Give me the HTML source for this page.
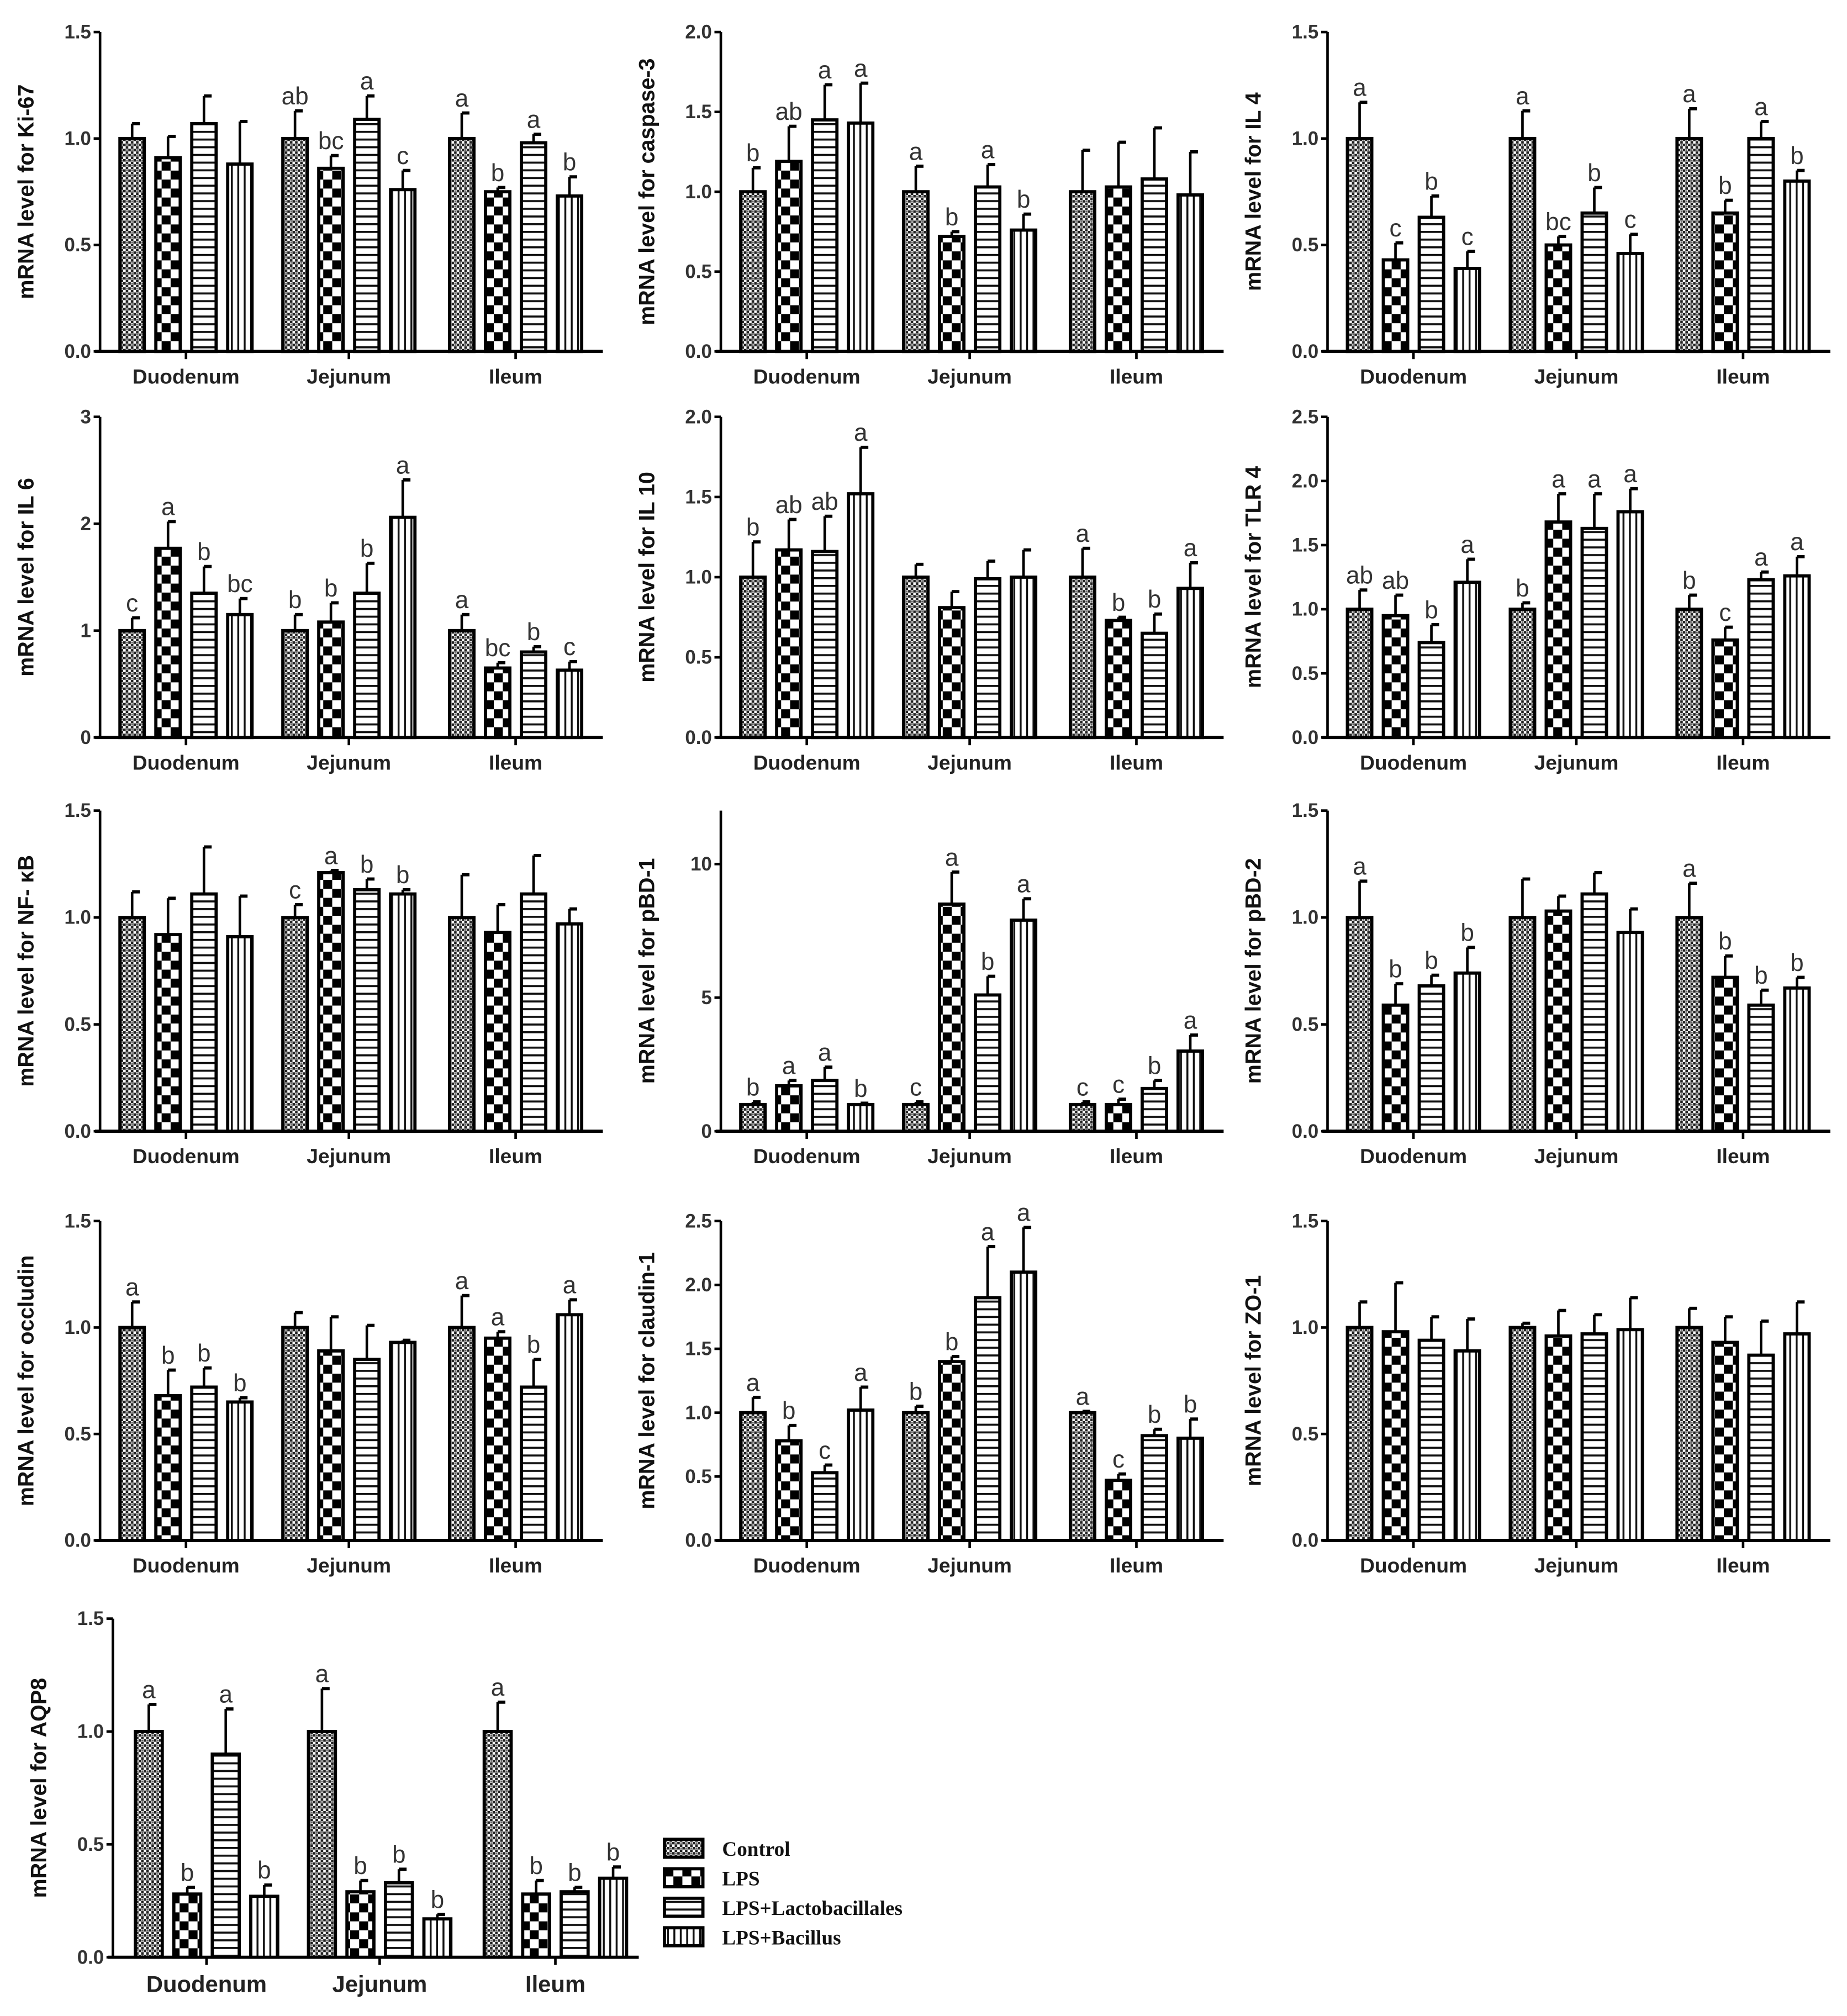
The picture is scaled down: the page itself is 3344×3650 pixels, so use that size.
<!DOCTYPE html>
<html><head><meta charset="utf-8"><style>
html,body{margin:0;padding:0;background:#fff}
svg{display:block}
</style></head><body>
<svg id="fig" xmlns="http://www.w3.org/2000/svg" width="3344" height="3650" viewBox="0 0 1440 1571.8">
<defs>
<pattern id="pCtrl" patternUnits="userSpaceOnUse" width="4" height="4"><rect width="4" height="4" fill="#fff"/><rect x="0" y="0" width="2" height="2" fill="#222"/><rect x="2" y="2" width="2" height="2" fill="#222"/><circle cx="3" cy="1" r="0.7" fill="#666"/></pattern>
<pattern id="pLps" patternUnits="userSpaceOnUse" width="14" height="14"><rect width="14" height="14" fill="#fff"/><rect x="0" y="0" width="7" height="7" fill="#000"/><rect x="7" y="7" width="7" height="7" fill="#000"/></pattern>
<pattern id="pLac" patternUnits="userSpaceOnUse" width="6" height="6"><rect width="6" height="6" fill="#fff"/><rect x="0" y="0" width="6" height="1.6" fill="#111"/></pattern>
<pattern id="pBac" patternUnits="userSpaceOnUse" width="5" height="5"><rect width="5" height="5" fill="#fff"/><rect x="0" y="0" width="1.5" height="5" fill="#111"/></pattern>
</defs>
<g id="panels"></g>
<g font-family="Liberation Serif, serif" font-weight="bold" font-size="16" fill="#111">
<rect x="518" y="1434" width="30" height="14" fill="url(#pCtrl)" stroke="#000" stroke-width="2.5"/>
<text x="563" y="1447">Control</text>
<rect x="518" y="1457" width="30" height="14" fill="url(#pLps)" stroke="#000" stroke-width="2.5"/>
<text x="563" y="1470">LPS</text>
<rect x="518" y="1480" width="30" height="14" fill="url(#pLac)" stroke="#000" stroke-width="2.5"/>
<text x="563" y="1493">LPS+Lactobacillales</text>
<rect x="518" y="1503" width="30" height="14" fill="url(#pBac)" stroke="#000" stroke-width="2.5"/>
<text x="563" y="1516">LPS+Bacillus</text>
</g>
</svg>
<script>
const regions = ["Duodenum","Jejunum","Ileum"];
const fills = ["url(#pCtrl)","url(#pLps)","url(#pLac)","url(#pBac)"];
const titles = ["Ki-67","caspase-3","IL 4","IL 6","IL 10","TLR 4","NF- κB","pBD-1","pBD-2","occludin","claudin-1","ZO-1","AQP8"];
const yMax = [1.5,2.0,1.5,3,2.0,2.5,1.5,12,1.5,1.5,2.5,1.5,1.5];
const yTicks = [
 ["0.0","0.5","1.0","1.5"],["0.0","0.5","1.0","1.5","2.0"],["0.0","0.5","1.0","1.5"],
 ["0","1","2","3"],["0.0","0.5","1.0","1.5","2.0"],["0.0","0.5","1.0","1.5","2.0","2.5"],
 ["0.0","0.5","1.0","1.5"],["0","5","10"],["0.0","0.5","1.0","1.5"],
 ["0.0","0.5","1.0","1.5"],["0.0","0.5","1.0","1.5","2.0","2.5"],["0.0","0.5","1.0","1.5"],
 ["0.0","0.5","1.0","1.5"]];
const means = [
 [[1.0,0.91,1.07,0.88],[1.0,0.86,1.09,0.76],[1.0,0.75,0.98,0.73]],
 [[1.0,1.19,1.45,1.43],[1.0,0.72,1.03,0.76],[1.0,1.03,1.08,0.98]],
 [[1.0,0.43,0.63,0.39],[1.0,0.50,0.65,0.46],[1.0,0.65,1.0,0.80]],
 [[1.0,1.77,1.35,1.15],[1.0,1.08,1.35,2.06],[1.0,0.65,0.80,0.63]],
 [[1.0,1.17,1.16,1.52],[1.0,0.81,0.99,1.0],[1.0,0.73,0.65,0.93]],
 [[1.0,0.95,0.74,1.21],[1.0,1.68,1.63,1.76],[1.0,0.76,1.23,1.26]],
 [[1.0,0.92,1.11,0.91],[1.0,1.21,1.13,1.11],[1.0,0.93,1.11,0.97]],
 [[1.0,1.7,1.9,1.0],[1.0,8.5,5.1,7.9],[1.0,1.0,1.6,3.0]],
 [[1.0,0.59,0.68,0.74],[1.0,1.03,1.11,0.93],[1.0,0.72,0.59,0.67]],
 [[1.0,0.68,0.72,0.65],[1.0,0.89,0.85,0.93],[1.0,0.95,0.72,1.06]],
 [[1.0,0.78,0.53,1.02],[1.0,1.40,1.90,2.10],[1.0,0.47,0.82,0.80]],
 [[1.0,0.98,0.94,0.89],[1.0,0.96,0.97,0.99],[1.0,0.93,0.87,0.97]],
 [[1.0,0.28,0.90,0.27],[1.0,0.29,0.33,0.17],[1.0,0.28,0.29,0.35]]];
const errs = [
 [[.07,.10,.13,.20],[.13,.06,.11,.09],[.12,.02,.04,.09]],
 [[.15,.22,.22,.25],[.16,.03,.14,.10],[.26,.28,.32,.27]],
 [[.17,.08,.10,.08],[.13,.04,.12,.09],[.14,.06,.08,.05]],
 [[.12,.25,.25,.15],[.15,.18,.28,.35],[.15,.05,.05,.08]],
 [[.22,.19,.22,.29],[.08,.10,.11,.17],[.18,.02,.12,.16]],
 [[.15,.16,.14,.18],[.05,.22,.27,.18],[.11,.10,.06,.15]],
 [[.12,.17,.22,.19],[.06,.01,.05,.02],[.20,.13,.18,.07]],
 [[.1,.2,.5,.05],[.1,1.2,.7,.8],[.1,.2,.3,.6]],
 [[.17,.10,.05,.12],[.18,.07,.10,.11],[.16,.10,.07,.05]],
 [[.12,.12,.09,.02],[.07,.16,.16,.01],[.15,.03,.13,.07]],
 [[.12,.12,.06,.18],[.05,.04,.40,.35],[.01,.05,.05,.15]],
 [[.12,.23,.11,.15],[.02,.12,.09,.15],[.09,.12,.16,.15]],
 [[.12,.03,.20,.05],[.19,.05,.06,.02],[.13,.06,.02,.05]]];
const letters = [
 [["","","",""],["ab","bc","a","c"],["a","b","a","b"]],
 [["b","ab","a","a"],["a","b","a","b"],["","","",""]],
 [["a","c","b","c"],["a","bc","b","c"],["a","b","a","b"]],
 [["c","a","b","bc"],["b","b","b","a"],["a","bc","b","c"]],
 [["b","ab","ab","a"],["","","",""],["a","b","b","a"]],
 [["ab","ab","b","a"],["b","a","a","a"],["b","c","a","a"]],
 [["","","",""],["c","a","b","b"],["","","",""]],
 [["b","a","a","b"],["c","a","b","a"],["c","c","b","a"]],
 [["a","b","b","b"],["","","",""],["a","b","b","b"]],
 [["a","b","b","b"],["","","",""],["a","a","b","a"]],
 [["a","b","c","a"],["b","b","a","a"],["a","c","b","b"]],
 [["","","",""],["","","",""],["","","",""]],
 [["a","b","a","b"],["a","b","b","b"],["a","b","b","b"]]];

const NS="http://www.w3.org/2000/svg";
const root=document.getElementById('panels');
function mk(tag,attrs,parent){const e=document.createElementNS(NS,tag);for(const k in attrs)e.setAttribute(k,attrs[k]);parent.appendChild(e);return e;}
// layout: axis x, zero y, top y
const colX=[78,562,1035];
const rows=[[274,25],[575,325],[882,632],[1201,952]];
function layout(i){
  if(i===12) return {x0:88,y0:1526,y1:1262,offs:[73,208,345],bw:21,pitch:30,w:410};
  const r=Math.floor(i/3),c=i%3;
  return {x0:colX[c],y0:rows[r][0],y1:rows[r][1],offs:[67,194,324],bw:19,pitch:28,w:392};
}
titles.forEach((t,i)=>{
  const L=layout(i);
  const g=mk('g',{},root);
  
  
  const yS=v=>L.y0-(v/yMax[i])*(L.y0-L.y1);
  // y axis
  const ax=mk('line',{x1:L.x0,y1:L.y1,x2:L.x0,y2:L.y0,stroke:'#000','stroke-width':2},g);
  
  
  const xa=mk('line',{x1:L.x0-4,y1:L.y0,x2:L.x0+L.w,y2:L.y0,stroke:'#000','stroke-width':2.5},g);
  
  
  yTicks[i].forEach(tl=>{
    const v=parseFloat(tl), y=yS(v);
    mk('line',{x1:L.x0-5,y1:y,x2:L.x0,y2:y,stroke:'#000','stroke-width':2},g);
    const tx=mk('text',{x:L.x0-7,y:y+5,'text-anchor':'end','font-family':'Liberation Sans, sans-serif','font-weight':'bold','font-size':15,fill:'#333'},g);
    tx.textContent=tl;
    
    
  });
  const yt=mk('text',{transform:`translate(${L.x0-52},${(L.y0+L.y1)/2}) rotate(-90)`,'text-anchor':'middle','font-family':'Liberation Sans, sans-serif','font-weight':'bold','font-size':17,fill:'#111'},g);
  yt.textContent='mRNA level for '+t;
  
  
  regions.forEach((rg,gi)=>{
    const cx=L.x0+L.offs[gi];
    mk('line',{x1:cx,y1:L.y0,x2:cx,y2:L.y0+6,stroke:'#000','stroke-width':2},g);
    const ct=mk('text',{x:cx,y:L.y0+(i===12?27:25),'text-anchor':'middle','font-family':'Liberation Sans, sans-serif','font-weight':'bold','font-size':(i===12?18:16),fill:'#222'},g);
    ct.textContent=rg;
    
    
    for(let k=0;k<4;k++){
      const v=means[i][gi][k], e=errs[i][gi][k];
      const bx=cx+(k-1.5)*L.pitch-L.bw/2;
      const top=yS(v), mid=bx+L.bw/2, et=yS(v+e);
      mk('line',{x1:mid,y1:top,x2:mid,y2:et,stroke:'#000','stroke-width':2},g);
      mk('line',{x1:mid,y1:et,x2:mid+6,y2:et,stroke:'#000','stroke-width':2.5},g);
      const b=mk('rect',{x:bx,y:top,width:L.bw,height:L.y0-top,fill:fills[k],stroke:'#000','stroke-width':2.5},g);
      
      
      const lt=letters[i][gi][k];
      if(lt){
        const tx=mk('text',{x:mid,y:et-5,'text-anchor':'middle','font-family':'Liberation Sans, sans-serif','font-size':19,fill:'#333'},g);
        tx.textContent=lt;
        
        
      }
    }
  });
});
</script>
</body></html>
